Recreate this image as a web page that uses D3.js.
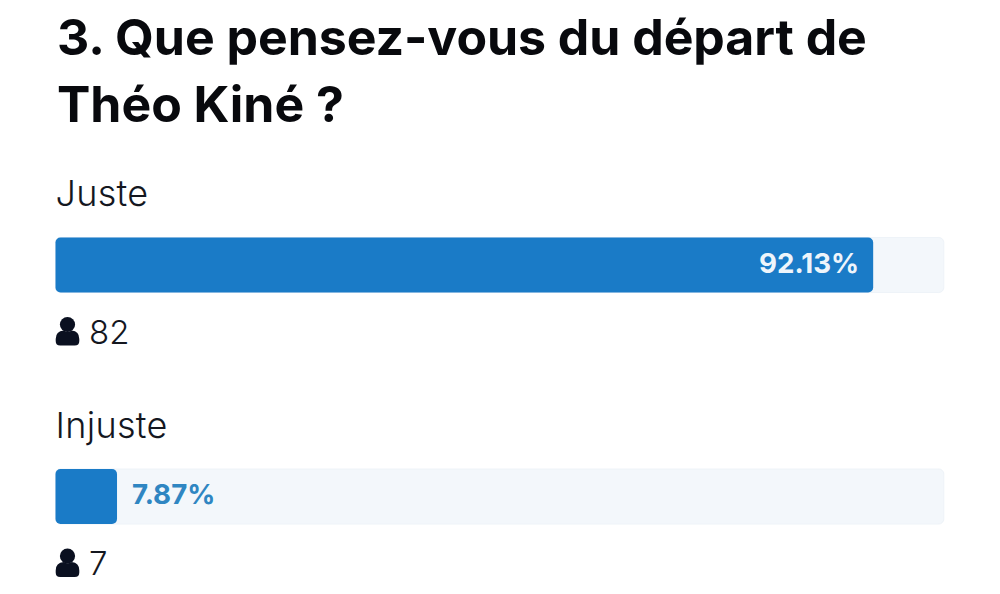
<!DOCTYPE html>
<html><head><meta charset="utf-8">
<script src="https://cdn.jsdelivr.net/npm/d3@7"></script>
<style>html,body{margin:0;padding:0;background:#fff}svg{display:block}text{font-family:Inter,sans-serif}</style>
</head><body><svg id="c" width="1000" height="594"></svg>
<script>
const titleLines=["3. Que pensez-vous du départ de","Théo Kiné ?"];
const categories=["Juste","Injuste"];
const percents=[92.13,7.87];
const percentLabels=["92.13%","7.87%"];
const votes=[82,7];
const svg=d3.select("#c");
const x=d3.scaleLinear().domain([0,100]).range([46.4,943.8]);
const trackLeft=55.5;
const rowY=d3.scalePoint().domain(categories).range([237.5,469]);
svg.selectAll("text.title").data(titleLines).join("text").attr("class","title")
 .attr("x",57).attr("y",(d,i)=>[55,121.5][i]).attr("font-size",50).attr("font-weight",700).attr("letter-spacing",-0.05).attr("fill","#08090d").text(d=>d);
const g=svg.selectAll("g.row").data(categories).join("g").attr("class","row").attr("transform",d=>`translate(0,${rowY(d)})`);
g.append("text").attr("x",55.5).attr("y",-31.5).attr("font-size",36).attr("font-weight",300).attr("letter-spacing",0.3).attr("fill","#14171f").text(d=>d);
g.append("rect").attr("x",trackLeft).attr("y",0).attr("width",x(100)-trackLeft).attr("height",55).attr("rx",5).attr("fill","#f3f7fb").attr("stroke","#eef3f8").attr("stroke-width",1);
g.append("rect").attr("x",trackLeft).attr("y",0).attr("width",(d,i)=>x(percents[i])-trackLeft).attr("height",55).attr("rx",5).attr("fill","#1a7bc7");
g.append("text").attr("y",35).attr("font-size",27.7).attr("font-weight",700)
 .attr("x",(d,i)=>percents[i]>50?x(percents[i])-14:x(percents[i])+15)
 .attr("text-anchor",(d,i)=>percents[i]>50?"end":"start")
 .attr("fill",(d,i)=>percents[i]>50?"#eef5fb":"#2f86c2").text((d,i)=>percentLabels[i]);
const icon=g.append("g").attr("transform","translate(55.7,79.5)").attr("fill","#0a1020");
icon.append("circle").attr("cx",11.8).attr("cy",7.5).attr("r",7.6);
icon.append("path").attr("d","M0 24 L0 22 Q0 14 8 13.5 Q12 16 16 13.5 Q23.6 14 23.6 22 L23.6 24 Q23.6 28.5 19 28.5 L4.5 28.5 Q0 28.5 0 24Z");
g.append("text").attr("x",89).attr("y",106).attr("font-size",33).attr("font-weight",300).attr("fill","#14171f").text((d,i)=>votes[i]);
</script></body></html>
